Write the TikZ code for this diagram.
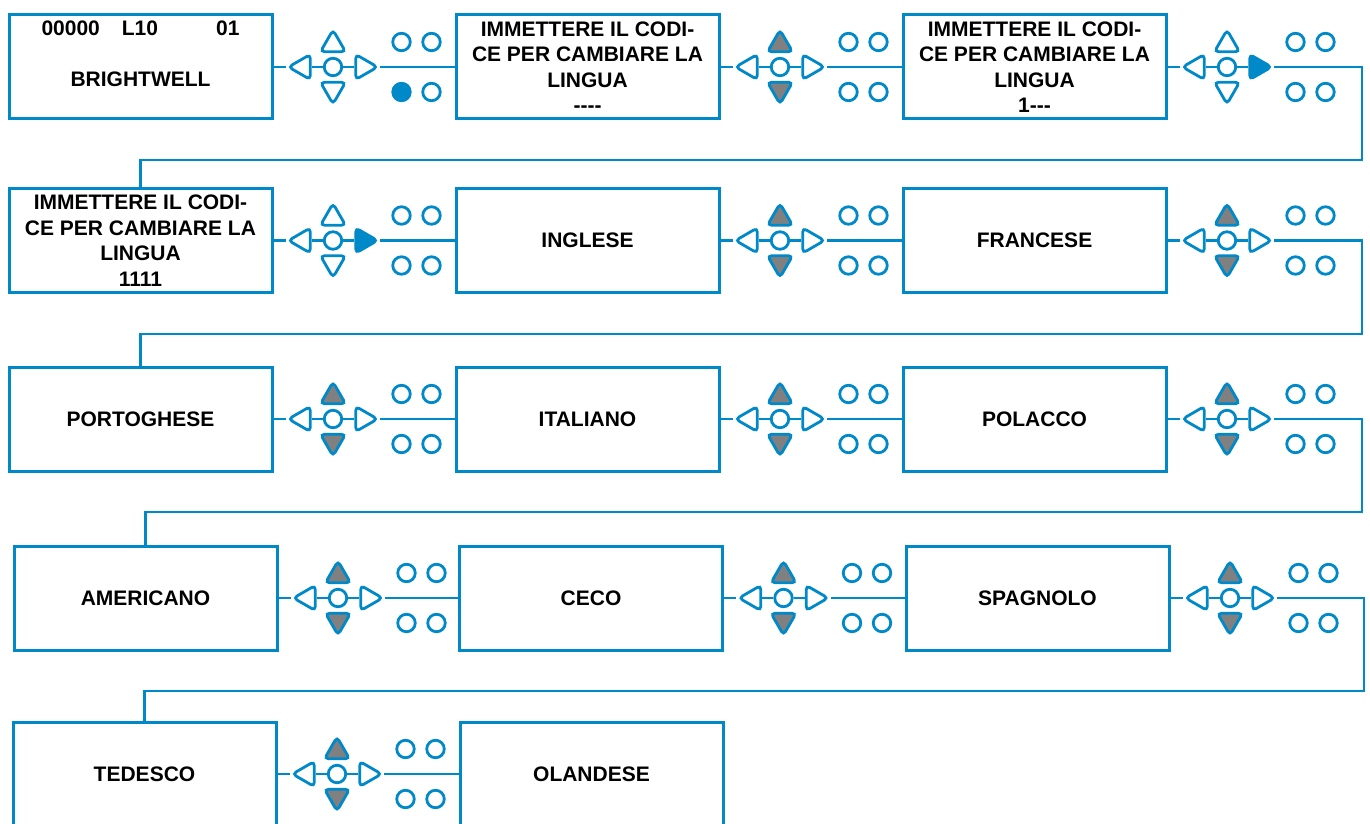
\documentclass[tikz,border=0pt]{standalone}
\usepackage{fontspec}
\setmainfont{Liberation Sans}
\usepackage{tikz}
\usetikzlibrary{
    calc,
    shapes.geometric
}
\definecolor{keyblue}{RGB}{0,137,201}
\definecolor{keygray}{RGB}{128,128,128}
\tikzset
{
  screen/.style={draw=keyblue,line width=3pt,minimum width=263pt,minimum height=104pt,inner sep=0pt,align=center,font=\bfseries\fontsize{21}{25.5}\selectfont},
  lbl/.style={inner sep=0pt,font=\bfseries\fontsize{21}{25.5}\selectfont},
  link/.style={draw=keyblue,line width=2.8pt},
  keyc/.style={circle,draw=keyblue,line width=2.8pt,fill=white,minimum size=17.5pt,inner sep=0pt},
  keyt/.style={regular polygon,regular polygon sides=3,draw=keyblue,line width=2.8pt,minimum size=29pt,inner sep=0pt,rounded corners=4pt}
}

% keypad: name, screen on its left, up/down fill, right fill, lower dot fill
\newcommand{\keypad}[5]{%
  \node[keyc] (#1C) at ($(#2.east)+(59.5,0)$) {};
  \node[keyt,fill=white,shape border rotate=90] (#1L) at ($(#1C)+(-30,0)$) {};
  \node[keyt,fill=#4,shape border rotate=-90] (#1R) at ($(#1C)+(30,0)$) {};
  \node[keyt,fill=#3] (#1U) at ($(#1C)+(0,-22.5)$) {};
  \node[keyt,fill=#3,shape border rotate=180] (#1D) at ($(#1C)+(0,22.5)$) {};
  \node[keyc] (#1A) at ($(#1C)+(68.5,-25)$) {};
  \node[keyc] (#1B) at ($(#1C)+(98.5,-25)$) {};
  \node[keyc,fill=#5] (#1E) at ($(#1C)+(68.5,25)$) {};
  \node[keyc] (#1F) at ($(#1C)+(98.5,25)$) {};
  \draw[link] (#2) -- (#1L) (#1L) -- (#1C) (#1C) -- (#1R);
}

\begin{document}
\begin{tikzpicture}[x=1pt,y=-1pt]
    \path[use as bounding box,clip] (0,0) rectangle (1370,824);

    % Screens
    \node[screen] (r1a) at (140.5,67) {};
    \node[lbl,anchor=base] (r1aT) at ($(r1a.north)+(0,22)$) {00000\hspace{22pt}L10\hspace{58pt}01};
    \node[lbl,anchor=base] (r1aB) at ($(r1a.north)+(0,73)$) {BRIGHTWELL};
    \node[screen] (r1b) at (587.5,67) {IMMETTERE IL CODI-\\CE PER CAMBIARE LA\\LINGUA\\{-}{-}{-}{-}};
    \node[screen] (r1c) at (1034.5,67) {IMMETTERE IL CODI-\\CE PER CAMBIARE LA\\LINGUA\\1{-}{-}{-}};

    \node[screen] (r2a) at (140.5,240.5) {IMMETTERE IL CODI-\\CE PER CAMBIARE LA\\LINGUA\\1111};
    \node[screen] (r2b) at (587.5,240.5) {INGLESE};
    \node[screen] (r2c) at (1034.5,240.5) {FRANCESE};

    \node[screen] (r3a) at (140.5,419) {PORTOGHESE};
    \node[screen] (r3b) at (587.5,419) {ITALIANO};
    \node[screen] (r3c) at (1034.5,419) {POLACCO};

    \node[screen] (r4a) at (145.5,598) {AMERICANO};
    \node[screen] (r4b) at (591,598) {CECO};
    \node[screen] (r4c) at (1037.5,598) {SPAGNOLO};

    \node[screen] (r5a) at (144.5,774) {TEDESCO};
    \node[screen] (r5b) at (591.5,774) {OLANDESE};

    % Keypads
    \keypad{k11}{r1a}{white}{white}{keyblue}
    \keypad{k12}{r1b}{keygray}{white}{white}
    \keypad{k13}{r1c}{white}{keyblue}{white}
    \keypad{k21}{r2a}{white}{keyblue}{white}
    \keypad{k22}{r2b}{keygray}{white}{white}
    \keypad{k23}{r2c}{keygray}{white}{white}
    \foreach \n/\s in {k31/r3a,k32/r3b,k33/r3c,k41/r4a,k42/r4b,k43/r4c,k51/r5a}
        \keypad{\n}{\s}{keygray}{white}{white};

    % Links between screens
    \foreach \k/\s in {k11/r1b,k12/r1c,k21/r2b,k22/r2c,k31/r3b,k32/r3c,k41/r4b,k42/r4c,k51/r5b}
        \draw[link] (\k R) -- (\s);

    % Links to the next row
    \coordinate (w1) at (1362,160);
    \coordinate (w2) at (1362,334);
    \coordinate (w3) at (1362,512);
    \coordinate (w4) at (1364,691);
    \draw[link] (k13R) -| (w1) -| (r2a);
    \draw[link] (k23R) -| (w2) -| (r3a);
    \draw[link] (k33R) -| (w3) -| (r4a);
    \draw[link] (k43R) -| (w4) -| (r5a);
\end{tikzpicture}
\end{document}
